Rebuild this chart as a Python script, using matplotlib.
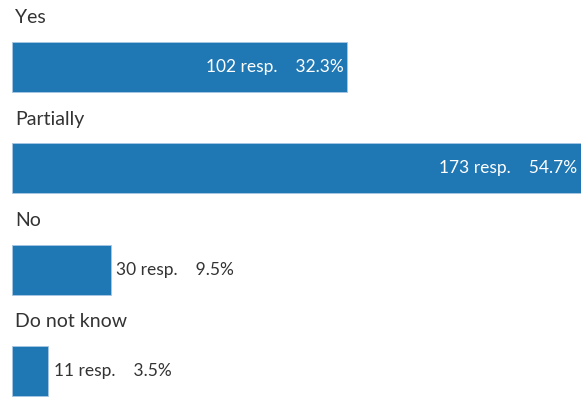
import matplotlib
matplotlib.use("Agg")
from matplotlib import pyplot as plt

# datos
categorias = ["Yes", "Partially", "No", "Do not know"]
respuestas = [102, 173, 30, 11]
porcentajes = [32.3, 54.7, 9.5, 3.5]

azul = "#1f77b4"
gris = "#333333"

plt.rcParams['font.family'] = ['Lato', 'DejaVu Sans']

fig = plt.figure(figsize=(5.84, 3.99), dpi=100)
ax = fig.add_axes([12/584, 0, 569/584, 1])

y = list(range(len(categorias)))
ax.barh(y, respuestas, height=0.494, color=azul, edgecolor="#a9c8e3", linewidth=0.6)
ax.set_xlim(0, max(respuestas))
ax.set_ylim(3.277, -0.661)
ax.axis("off")

for i in range(len(categorias)):
    ax.text(3/569*max(respuestas), i - 0.484, categorias[i], fontsize=14,
            color=gris, va="center", ha="left")
    texto = str(respuestas[i]) + " resp.    " + ("%.1f" % porcentajes[i]) + "%"
    if respuestas[i] > 50:
        ax.annotate(texto, (respuestas[i], i), xytext=(-3, 0), textcoords="offset points",
                    ha="right", va="center", color="white", fontsize=12.5)
    else:
        ax.annotate(texto, (respuestas[i], i), xytext=(4, 0), textcoords="offset points",
                    ha="left", va="center", color=gris, fontsize=12.5)

fig.savefig("out.png", dpi=100)
